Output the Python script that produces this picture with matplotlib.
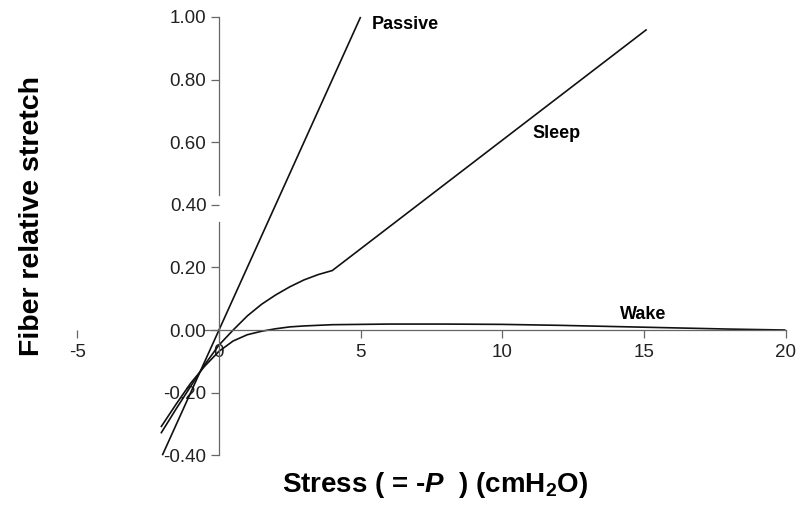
import matplotlib.pyplot as plt

plt.rcParams['font.family'] = ['Liberation Sans', 'DejaVu Sans']
plt.rcParams['mathtext.fontset'] = 'custom'
plt.rcParams['mathtext.rm'] = 'Liberation Sans:bold'
plt.rcParams['mathtext.it'] = 'Liberation Sans:bold:italic'
plt.rcParams['mathtext.bf'] = 'Liberation Sans:bold'

# Data: stress (cmH2O) vs fiber relative stretch
passive_x = [-2.0, 5.0]
passive_y = [-0.40, 1.00]

sleep_x = [-2.05, -1.5, -1.0, -0.5, 0.0, 0.5, 1.0, 1.5, 2.0, 2.5, 3.0, 3.5, 4.0, 15.1]
sleep_y = [-0.33, -0.25, -0.18, -0.11, -0.048, 0.0, 0.045, 0.082, 0.112, 0.138, 0.16, 0.177, 0.19, 0.96]

wake_x = [-2.05, -1.5, -1.0, -0.5, 0.0, 0.5, 1.0, 1.5, 2.0, 2.5, 3.0, 4.0, 6.0, 8.0,
          10.0, 12.0, 14.0, 16.0, 18.0, 20.0]
wake_y = [-0.31, -0.235, -0.17, -0.115, -0.068, -0.035, -0.015, -0.004, 0.004, 0.01,
          0.013, 0.017, 0.019, 0.019, 0.018, 0.015, 0.011, 0.007, 0.003, 0.0]

x_ticks = [-5, 0, 5, 10, 15, 20]
y_ticks = [-0.40, -0.20, 0.00, 0.20, 0.40, 0.60, 0.80, 1.00]

fig = plt.figure(figsize=(7.99, 5.08), dpi=100)
ax = fig.add_axes([63.2 / 799, 0.0915, (794 - 63.2) / 799, 0.979 - 0.0915])

line_kw = dict(color='#111111', lw=1.2, solid_capstyle='butt')
ax.plot(passive_x, passive_y, **line_kw)
ax.plot(sleep_x, sleep_y, **line_kw)
ax.plot(wake_x, wake_y, **line_kw)

ax.set_xlim(-5.5, 20.3)
ax.set_ylim(-0.42, 1.02)

axis_color = '#666666'
for side in ['top', 'right']:
    ax.spines[side].set_visible(False)
ax.spines['left'].set_position(('data', 0))
ax.spines['bottom'].set_position(('data', 0))
ax.spines['left'].set_visible(False)
ax.spines['bottom'].set_bounds(-0.5, 20)
ax.spines['bottom'].set_color(axis_color)
ax.spines['bottom'].set_linewidth(0.9)

# y axis drawn by hand, with a break around 0.40
ax.plot([0, 0], [-0.40, 0.345], color=axis_color, lw=0.9)
ax.plot([0, 0], [0.43, 1.00], color=axis_color, lw=0.9)

ax.set_xticks(x_ticks)
ax.set_xticklabels([str(t) for t in x_ticks])
ax.set_yticks(y_ticks)
ax.set_yticklabels(['%.2f' % t for t in y_ticks])
ax.tick_params(axis='both', direction='out', length=6, width=0.9, color=axis_color,
               labelsize=13.5, labelcolor='#222222', pad=4)
ax.tick_params(axis='y', pad=3)

ax.text(5.4, 0.975, 'Passive', fontsize=13, fontweight='bold', va='center', ha='left')
ax.text(11.05, 0.628, 'Sleep', fontsize=13, fontweight='bold', va='center', ha='left')
ax.text(14.16, 0.051, 'Wake', fontsize=13, fontweight='bold', va='center', ha='left')

fig.text(0.544, 0.045, r'Stress ( = -$\mathit{P}$  ) (cmH$_\mathregular{2}$O)',
         fontsize=20, fontweight='bold', ha='center', va='center')
fig.text(0.040, 0.575, 'Fiber relative stretch', fontsize=20.5, fontweight='bold',
         rotation=90, ha='center', va='center')

fig.savefig('out.png', dpi=100)
